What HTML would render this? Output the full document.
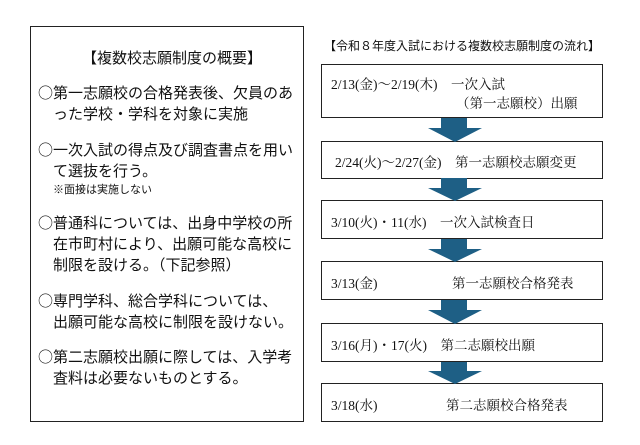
<!DOCTYPE html>
<html><head><meta charset="utf-8"><style>
body{margin:0;width:640px;height:445px;background:#fff;position:relative;overflow:hidden;font-family:"Liberation Sans","Noto Sans CJK JP",sans-serif;color:#111}
.lb{position:absolute;left:30px;top:26px;width:272px;height:394px;border:1.5px solid #222}
.t{position:absolute;white-space:nowrap}
.l{font-size:15px;left:38px;font-family:"Noto Sans CJK JP",sans-serif;line-height:20px}
.i{left:53px}
.bx{position:absolute;left:321px;width:280px;border:1.5px solid #222;background:#fff}
.s{font-family:"Liberation Serif","Noto Serif CJK SC",serif;font-size:13.5px;position:absolute;white-space:nowrap}
.ar{position:absolute;left:427px;width:56px}
</style></head><body>
<div class="lb"></div>
<div class="t" style="left:82px;top:47px;font-size:15px;font-family:'Noto Sans CJK JP',sans-serif">【複数校志願制度の概要】</div>
<div class="t l" style="top:83px">○第一志願校の合格発表後、欠員のあ</div>
<div class="t l i" style="top:104px">った学校・学科を対象に実施</div>
<div class="t l" style="top:140px">○一次入試の得点及び調査書点を用い</div>
<div class="t l i" style="top:161px">て選抜を行う。</div>
<div class="t i" style="top:181px;font-size:11px">※面接は実施しない</div>
<div class="t l" style="top:213px">○普通科については、出身中学校の所</div>
<div class="t l i" style="top:234px">在市町村により、出願可能な高校に</div>
<div class="t l i" style="top:255px">制限を設ける。（下記参照）</div>
<div class="t l" style="top:291px">○専門学科、総合学科については、</div>
<div class="t l i" style="top:312px">出願可能な高校に制限を設けない。</div>
<div class="t l" style="top:347px">○第二志願校出願に際しては、入学考</div>
<div class="t l i" style="top:368px">査料は必要ないものとする。</div>

<div class="t" style="left:324px;top:37px;font-size:12px">【令和８年度入試における複数校志願制度の流れ】</div>

<div class="bx" style="top:64px;height:52px"><span class="s" style="left:9px;top:8px">2/13(金)～2/19(木)　一次入試</span><span class="s" style="left:134px;top:27px">（第一志願校）出願</span></div>
<div class="bx" style="top:141px;height:36px"><span class="s" style="left:13px;top:9px">2/24(火)～2/27(金)　第一志願校志願変更</span></div>
<div class="bx" style="top:200px;height:37px"><span class="s" style="left:9px;top:10px">3/10(火)・11(水)　一次入試検査日</span></div>
<div class="bx" style="top:261px;height:37px"><span class="s" style="left:9px;top:10px">3/13(金)</span><span class="s" style="left:130px;top:10px">第一志願校合格発表</span></div>
<div class="bx" style="top:323px;height:37px"><span class="s" style="left:9px;top:10px">3/16(月)・17(火)　第二志願校出願</span></div>
<div class="bx" style="top:383px;height:37px"><span class="s" style="left:9px;top:10px">3/18(水)</span><span class="s" style="left:124px;top:10px">第二志願校合格発表</span></div>

<svg class="ar" style="top:118px" width="56" height="24"><polygon points="14,0 40,0 40,10 55,10 28,24 1,10 14,10" fill="#1e5f85"/></svg>
<svg class="ar" style="top:178px" width="56" height="23"><polygon points="14,0 40,0 40,10 55,10 28,23 1,10 14,10" fill="#1e5f85"/></svg>
<svg class="ar" style="top:239px" width="56" height="23"><polygon points="14,0 40,0 40,10 55,10 28,23 1,10 14,10" fill="#1e5f85"/></svg>
<svg class="ar" style="top:300px" width="56" height="24"><polygon points="14,0 40,0 40,10 55,10 28,24 1,10 14,10" fill="#1e5f85"/></svg>
<svg class="ar" style="top:362px" width="56" height="22"><polygon points="14,0 40,0 40,9 55,9 28,22 1,9 14,9" fill="#1e5f85"/></svg>
</body></html>
